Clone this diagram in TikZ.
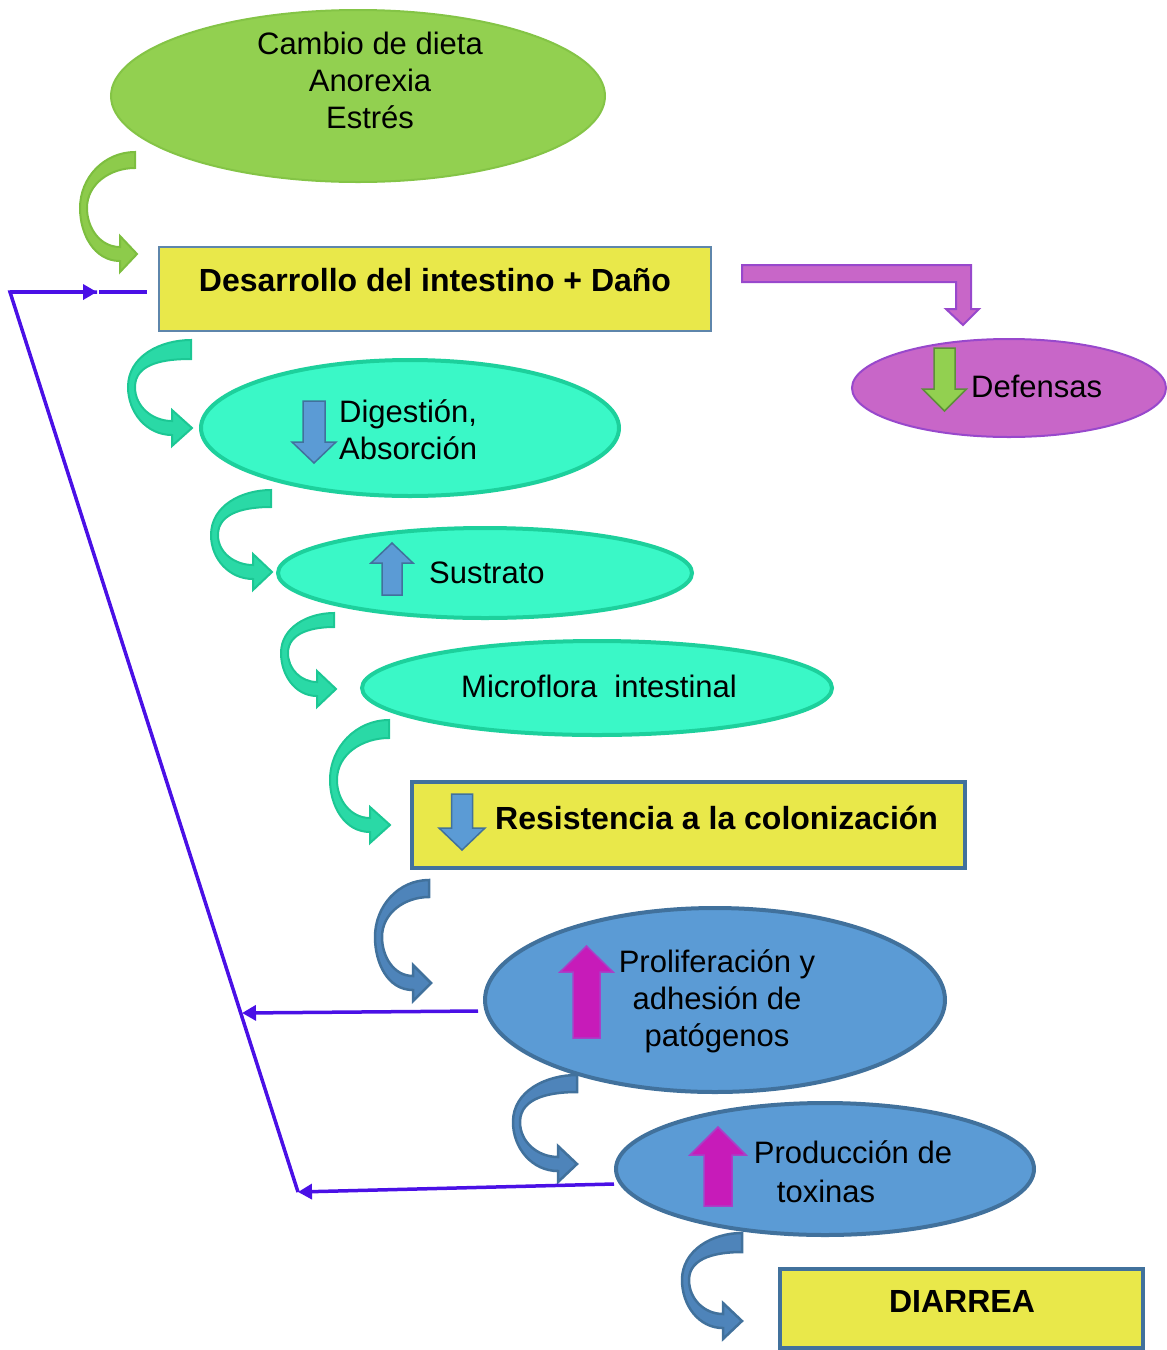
\documentclass[tikz,border=0pt]{standalone}
\usepackage{fontspec}
\setmainfont{Liberation Sans}
\usetikzlibrary{arrows.meta,shapes.geometric,calc}
\definecolor{cGreen}{HTML}{92D050}
\definecolor{cGreenB}{HTML}{84C446}
\definecolor{cGreenArr}{HTML}{8DCB4B}
\definecolor{cGreenArrB}{HTML}{7DBE3F}
\definecolor{cGreenDk}{HTML}{5E8F3A}
\definecolor{cAqua}{HTML}{3AF8C7}
\definecolor{cAquaB}{HTML}{1DD09C}
\definecolor{cAquaArr}{HTML}{2AD9A6}
\definecolor{cAquaArrB}{HTML}{1CC794}
\definecolor{cBlue}{HTML}{5B9BD5}
\definecolor{cBlueB}{HTML}{41719C}
\definecolor{cBlueArr}{HTML}{4E84BA}
\definecolor{cYel}{HTML}{E9E84A}
\definecolor{cPurp}{HTML}{C866C8}
\definecolor{cPurpB}{HTML}{9848CC}
\definecolor{cMag}{HTML}{C71BB9}
\definecolor{cMagB}{HTML}{A840C8}
\definecolor{cFb}{HTML}{4A10E6}
% curved U-turn arrow: style, tailX, tailTopY, tailThick, leftX, leftY, tipX, tipY, headBaseX
\newcommand{\curvarr}[9]{%
  \filldraw[#1] (#2,-#3) to[out=180,in=90] (#5,-#6) to[out=-90,in=180] (#9,{-#8-7})
    -- (#9,{-#8-18}) -- (#7,-#8) -- (#9,{-#8+18}) -- (#9,{-#8+7})
    to[out=180,in=-90] ({#5+7},-#6) to[out=90,in=180] (#2,{-#3-#4}) -- cycle;}
% straight block arrow: style, cx, baseY, headY, tipY, half shaft, half head
\newcommand{\blkarr}[7]{%
  \filldraw[#1] ({#2-#6},-#3) -- ({#2+#6},-#3) -- ({#2+#6},-#4) -- ({#2+#7},-#4)
    -- (#2,-#5) -- ({#2-#7},-#4) -- ({#2-#6},-#4) -- cycle;}
\tikzset{
  base/.style={inner sep=0pt, outer sep=0pt},
  greenell/.style={ellipse, base, fill=cGreen, draw=cGreenB, line width=2pt},
  aquaell/.style={ellipse, base, fill=cAqua, draw=cAquaB, line width=4pt},
  blueell/.style={ellipse, base, fill=cBlue, draw=cBlueB, line width=4pt},
  purpell/.style={ellipse, base, fill=cPurp, draw=cPurpB, line width=2pt},
  ybox/.style={rectangle, base, fill=cYel, draw=cBlueB, line width=4pt},
  txt/.style={font=\fontsize{31}{37}\selectfont, inner sep=0pt, align=center},
  btxt/.style={font=\fontsize{32}{38}\selectfont\bfseries, inner sep=0pt},
  garr/.style={fill=cGreenArr, draw=cGreenArrB, line width=2pt, line join=miter},
  aarr/.style={fill=cAquaArr, draw=cAquaArrB, line width=2pt, line join=miter},
  barr/.style={fill=cBlueArr, draw=cBlueB, line width=2.5pt, line join=miter},
  bluesmall/.style={fill=cBlue, draw=cBlueB, line width=1.5pt},
  greensmall/.style={fill=cGreen, draw=cGreenDk, line width=1.5pt},
  magsmall/.style={fill=cMag, draw=cMagB, line width=1.5pt},
  bentarr/.style={fill=cPurp, draw=cPurpB, line width=2pt},
  fb/.style={draw=cFb, line width=3.5pt},
  fbtip/.style={-{Triangle[length=14pt,width=15pt]}},
}
\begin{document}
\begin{tikzpicture}[x=1pt,y=1pt]
\useasboundingbox (0,0) rectangle (1167,-1350);
% shapes
\node[greenell, minimum width=494pt, minimum height=172pt] (cambio) at (358,-96) {};
\node[ybox, line width=2.5pt, draw=cBlueB!85, minimum width=552pt, minimum height=84pt] (desar) at (435,-289) {};
\node[purpell, minimum width=314pt, minimum height=98pt] (defen) at (1009,-388) {};
\node[aquaell, minimum width=418pt, minimum height=136pt] (diges) at (410,-428) {};
\node[aquaell, minimum width=414pt, minimum height=90pt] (sustr) at (485,-573) {};
\node[aquaell, minimum width=470pt, minimum height=94pt] (micro) at (597,-688) {};
\node[ybox, minimum width=553pt, minimum height=86pt] (resis) at (688.5,-825) {};
\node[blueell, minimum width=460pt, minimum height=184pt] (prolif) at (715,-1000) {};
\node[blueell, minimum width=418pt, minimum height=132pt] (produ) at (825,-1169) {};
\node[ybox, minimum width=363pt, minimum height=79pt] (diarr) at (961.5,-1308.5) {};
% texts
\node[txt] (cambioT) at (370,-80) {Cambio de dieta\\Anorexia\\Estrés};
\node[btxt] (desarT) at (435,-280) {Desarrollo del intestino + Daño};
\node[txt, anchor=west] (defenT) at (971,-386) {Defensas};
\node[txt, anchor=west, align=left] (digesT) at (339,-430) {Digestión,\\Absorción};
\node[txt, anchor=west] (sustrT) at (429,-573) {Sustrato};
\node[txt] (microT) at (599,-686) {Microflora\ \ intestinal};
\node[btxt, anchor=west] (resisT) at (495,-818) {Resistencia a la colonización};
\node[txt] (prolifT) at (717,-1001) {Proliferación y\\adhesión de\\patógenos};
\node[txt] (produT1) at (853,-1152) {Producción de};
\node[txt] (produT2) at (826,-1191) {toxinas};
\node[btxt] (diarrT) at (962,-1301) {DIARREA};
% small block arrows inside shapes
\blkarr{bluesmall}{314}{401}{442}{463}{11}{22}
\blkarr{bluesmall}{392}{595}{563}{543}{10}{21}
\blkarr{bluesmall}{462}{794}{828}{850}{10.5}{23}
\blkarr{greensmall}{944.5}{348}{389}{411}{10.5}{22}
\blkarr{magsmall}{586.5}{1038}{972}{946}{13.5}{26.5}
\blkarr{magsmall}{718}{1206}{1155}{1127}{14}{28}
% bent arrow to Defensas
\filldraw[bentarr] (742,-265) -- (971,-265) -- (971,-309) -- (979,-309) -- (963,-325)
  -- (946,-309) -- (956,-309) -- (956,-282) -- (742,-282) -- cycle;
% curved arrows
\curvarr{garr}{135}{152}{16}{80}{208}{137}{254}{120}
\curvarr{aarr}{191}{340}{19}{128}{387}{192}{428}{172}
\curvarr{aarr}{271}{490}{17}{211}{535}{272}{572}{253}
\curvarr{aarr}{334}{613}{14}{281}{653}{336}{689}{317}
\curvarr{aarr}{389}{720}{18}{330}{780}{390}{825}{370}
\curvarr{barr}{429}{880}{17}{375}{937}{431}{983}{413}
\curvarr{barr}{577}{1075}{17}{513}{1122}{577}{1164}{558}
\curvarr{barr}{742}{1233}{19}{682}{1280}{742}{1321}{723}
% feedback loop
\coordinate (fbT) at (10,-292);
\coordinate (fbB) at (298,-1192);
\coordinate (fbMid) at (97,-292);
\coordinate (fbMid2) at (99,-292);
\coordinate (fbEnd) at (147,-292);
\coordinate (fbP) at (242,-1013);
\coordinate (prolifL) at (478,-1011);
\coordinate (produL) at (614,-1184);
\draw[fb, line join=miter] (fbB) -- (fbT) -- (fbMid);
\draw[fb, fbtip] (fbT) -- (fbMid);
\draw[fb] (fbMid2) -- (fbEnd);
\draw[fb, fbtip] (prolifL) -- (fbP);
\draw[fb, fbtip] (produL) -- (fbB);
\end{tikzpicture}
\end{document}
